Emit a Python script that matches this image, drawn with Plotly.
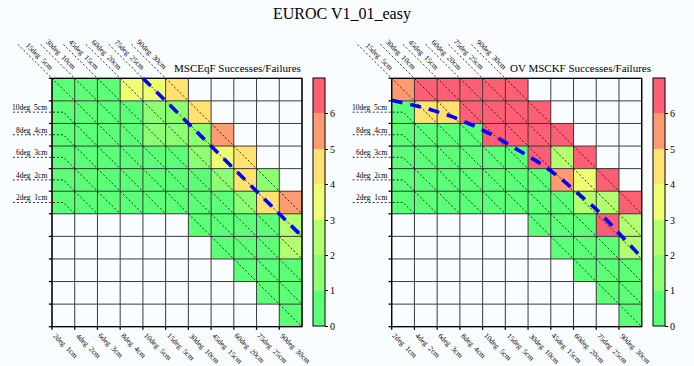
import plotly.graph_objects as go

W, H = 694, 366
N = None

# ---------------- data ----------------
x_labels = ["2deg  1cm", "4deg  2cm", "6deg  3cm", "8deg  4cm", "10deg  5cm",
            "15deg  5cm", "30deg  10cm", "45deg  15cm", "60deg  20cm",
            "75deg  25cm", "90deg  30cm"]
top_labels = ["15deg  5cm", "30deg  10cm", "45deg  15cm", "60deg  20cm",
              "75deg  25cm", "90deg  30cm"]
left_labels = ["10deg  5cm", "8deg  4cm", "6deg  3cm", "4deg  2cm", "2deg  1cm"]
colorbar_ticks = [0, 1, 2, 3, 4, 5, 6]

msceqf_values = [
    [0.5, 0.5, 0.5, 3.5, 3.5, 4.5, N, N, N, N, N],
    [0.5, 0.5, 0.5, 0.5, 1.5, 1.5, 4.5, N, N, N, N],
    [0.5, 0.5, 0.5, 0.5, 1.5, 1.5, 1.5, 5.5, N, N, N],
    [0.5, 0.5, 0.5, 0.5, 0.5, 0.5, 1.5, 3.5, 4.5, N, N],
    [0.5, 0.5, 0.5, 0.5, 0.5, 0.5, 0.5, 1.5, 4.5, 1.5, N],
    [0.5, 0.5, 0.5, 0.5, 0.5, 0.5, 0.5, 0.5, 1.5, 4.5, 5.5],
    [N, N, N, N, N, N, 0.5, 0.5, 0.5, 0.5, 2.5],
    [N, N, N, N, N, N, N, 0.5, 0.5, 0.5, 2.5],
    [N, N, N, N, N, N, N, N, 0.5, 0.5, 0.5],
    [N, N, N, N, N, N, N, N, N, 0.5, 0.5],
    [N, N, N, N, N, N, N, N, N, N, 0.5],
]
ovmsckf_values = [
    [5.5, 6.5, 6.5, 6.5, 6.5, 6.5, N, N, N, N, N],
    [0.5, 4.5, 4.5, 6.5, 6.5, 6.5, 6.5, N, N, N, N],
    [0.5, 0.5, 0.5, 0.5, 6.5, 6.5, 6.5, 6.5, N, N, N],
    [0.5, 0.5, 0.5, 0.5, 0.5, 0.5, 6.5, 2.5, 6.5, N, N],
    [0.5, 0.5, 0.5, 0.5, 0.5, 0.5, 0.5, 5.5, 3.5, 6.5, N],
    [0.5, 0.5, 0.5, 0.5, 0.5, 0.5, 0.5, 0.5, 2.5, 2.5, 6.5],
    [N, N, N, N, N, N, 0.5, 0.5, 0.5, 6.5, 2.5],
    [N, N, N, N, N, N, N, 0.5, 0.5, 0.5, 2.5],
    [N, N, N, N, N, N, N, N, 0.5, 0.5, 0.5],
    [N, N, N, N, N, N, N, N, N, 0.5, 0.5],
    [N, N, N, N, N, N, N, N, N, N, 0.5],
]

msceqf_boundary_x = [4.0, 11.0]
msceqf_boundary_y = [0.0, 7.0]
ovmsckf_boundary_x = [0.0, 1.61, 2.64, 3.59, 4.55, 5.50, 6.45, 7.33, 8.14, 8.94, 9.68, 10.41, 11.0]
ovmsckf_boundary_y = [0.97, 1.35, 1.69, 2.09, 2.57, 3.12, 3.71, 4.34, 5.04, 5.74, 6.51, 7.28, 7.94]

main_title = "EUROC V1_01_easy"
panel_titles = ["MSCEqF Successes/Failures", "OV MSCKF Successes/Failures"]

# ---------------- style ----------------
FONT = "Liberation Serif"
BG = "#fafdff"
band_colors = ["#5cff78", "#8cff72", "#b2ff70", "#eeff72", "#ffe272", "#ff9b72", "#ff5f74"]
nb = len(band_colors)
colorscale = []
for i, col in enumerate(band_colors):
    colorscale.append([i / nb, col])
    colorscale.append([(i + 1) / nb, col])

n = 11
cw = 250.0 / n
ch = 248.4 / n
panels = [
    dict(gx0=52.0, gy0=78.3, cbx=313.0, title_x=237.0),
    dict(gx0=391.7, gy0=78.3, cbx=652.7, title_x=580.5),
]
datasets = [
    (msceqf_values, msceqf_boundary_x, msceqf_boundary_y),
    (ovmsckf_values, ovmsckf_boundary_x, ovmsckf_boundary_y),
]

fig = go.Figure()
annotations = []
layout_axes = {}


def nbsp(s):
    return s.replace(" ", "\u00a0")


for p, (pan, (vals, bx, by)) in enumerate(zip(panels, datasets)):
    sfx = "" if p == 0 else str(p + 1)
    xa, ya = "x" + sfx, "y" + sfx
    gx0, gy0 = pan["gx0"], pan["gy0"]
    layout_axes["xaxis" + sfx] = dict(domain=[0, 1], range=[-gx0 / cw, (W - gx0) / cw],
                                      visible=False, fixedrange=True, anchor=ya)
    layout_axes["yaxis" + sfx] = dict(domain=[0, 1], range=[(H - gy0) / ch, -gy0 / ch],
                                      visible=False, fixedrange=True, anchor=xa)

    centers = [i + 0.5 for i in range(n)]
    fig.add_trace(go.Heatmap(
        z=vals, x=centers, y=centers, xaxis=xa, yaxis=ya,
        zmin=0, zmax=nb, colorscale=colorscale, hoverinfo="skip",
        colorbar=dict(
            x=pan["cbx"] / W, xanchor="left", xpad=0, xref="paper",
            y=1 - gy0 / H, yanchor="top", ypad=0, yref="paper",
            len=n * ch, lenmode="pixels", thickness=12,
            outlinewidth=1, outlinecolor="black",
            tickvals=colorbar_ticks, ticks="outside", ticklen=3, tickcolor="black",
            tickfont=dict(family=FONT, size=10, color="black"),
        ),
    ))

    # grid lines
    gxs, gys = [], []
    for k in range(n + 1):
        gxs += [k, k, None, 0, n, None]
        gys += [0, n, None, k, k, None]
    fig.add_trace(go.Scatter(x=gxs, y=gys, xaxis=xa, yaxis=ya, mode="lines",
                             line=dict(color="#3a3a3a", width=1), hoverinfo="skip", showlegend=False))

    # diagonal dashed lines in filled cells
    dxs, dys = [], []
    for r in range(n):
        for c in range(n):
            if vals[r][c] is None:
                continue
            if c == 0 and 1 <= r <= len(left_labels):
                continue
            dxs += [c, c + 1, None]
            dys += [r, r + 1, None]
    # left label leaders
    for j in range(len(left_labels)):
        r = j + 1
        dxs += [-1.72, 0.5, 1, None]
        dys += [r + 0.5, r + 0.5, r + 1, None]
    # top label leaders
    for k in range(len(top_labels)):
        dxs += [k - 1.5, k, None]
        dys += [-1.5, 0, None]
    fig.add_trace(go.Scatter(x=dxs, y=dys, xaxis=xa, yaxis=ya, mode="lines",
                             line=dict(color="black", width=0.8, dash="2px,2px"),
                             hoverinfo="skip", showlegend=False))

    # frame and ticks
    fxs = [0, n, n, 0, 0, None]
    fys = [0, 0, n, n, 0, None]
    for k in range(n + 1):
        fxs += [-0.14, 0, None]
        fys += [k, k, None]
    for k in range(n):
        fxs += [k, k, None]
        fys += [n, n + 0.14, None]
    fig.add_trace(go.Scatter(x=fxs, y=fys, xaxis=xa, yaxis=ya, mode="lines",
                             line=dict(color="black", width=1.3), hoverinfo="skip", showlegend=False))

    # boundary line
    fig.add_trace(go.Scatter(x=bx, y=by, xaxis=xa, yaxis=ya, mode="lines",
                             line=dict(color="#0000ff", width=3.6, dash="11px,8px"),
                             hoverinfo="skip", showlegend=False))

    lab_font = dict(family=FONT, size=7.5, color="black")
    for k, lab in enumerate(x_labels):
        annotations.append(dict(x=k - 0.1, y=n + 0.14, xref=xa, yref=ya, text=nbsp(lab),
                                textangle=45, xanchor="left", yanchor="top", showarrow=False,
                                font=lab_font, borderpad=0))
    for k, lab in enumerate(top_labels):
        annotations.append(dict(x=k + 0.2, y=-0.23, xref=xa, yref=ya, text=nbsp(lab),
                                textangle=45, xanchor="right", yanchor="bottom", showarrow=False,
                                font=lab_font, borderpad=0))
    for j, lab in enumerate(left_labels):
        annotations.append(dict(x=-0.13, y=j + 1.3, xref=xa, yref=ya, text=nbsp(lab),
                                xanchor="right", yanchor="middle", showarrow=False,
                                font=lab_font))
    annotations.append(dict(x=pan["title_x"] / W, y=1 - 67.7 / H, xref="paper", yref="paper",
                            text=panel_titles[p], xanchor="center", yanchor="middle",
                            showarrow=False, font=dict(family=FONT, size=11, color="black")))

annotations.append(dict(x=342.4 / W, y=1 - 14.5 / H, xref="paper", yref="paper", text=main_title,
                        xanchor="center", yanchor="middle", showarrow=False,
                        font=dict(family=FONT, size=16, color="black")))

fig.update_layout(
    width=W, height=H, margin=dict(l=0, r=0, t=0, b=0),
    paper_bgcolor=BG, plot_bgcolor="rgba(0,0,0,0)",
    showlegend=False, annotations=annotations, **layout_axes,
)

fig.write_html("out.html", config={"displayModeBar": False},
               post_script="document.body.style.margin='0px';document.body.style.overflow='hidden';")
